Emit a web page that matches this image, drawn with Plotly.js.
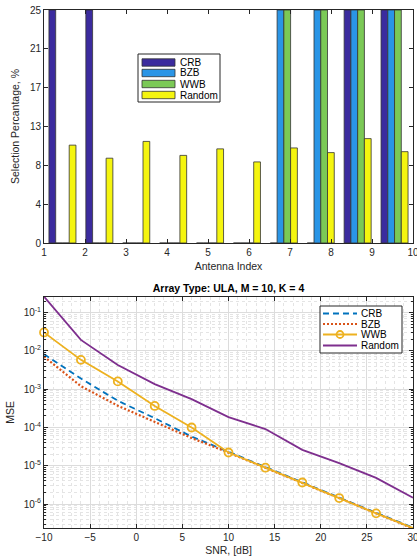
<!DOCTYPE html>
<html>
<head>
<meta charset="utf-8">
<script src="https://cdn.plot.ly/plotly-3.0.1.min.js"></script>
<style>html,body{margin:0;padding:0;background:#fff;}#chart{width:417px;height:558px;}</style>
</head>
<body>
<div id="chart"></div>
<script>
// ---------- Data: top chart (antenna selection) ----------
var antennaTicks = [1, 2, 3, 4, 5, 6, 7, 8, 9, 10];
var binCenters = [1.45, 2.35, 3.25, 4.15, 5.05, 5.95, 6.85, 7.75, 8.65, 9.55];
var barSeries = ['CRB', 'BZB', 'WWB', 'Random'];
var crbPct    = [25, 25, 0, 0, 0, 0, 0, 0, 25, 25];
var bzbPct    = [0, 0, 0, 0, 0, 0, 25, 25, 25, 25];
var wwbPct    = [0, 0, 0, 0, 0, 0, 25, 25, 25, 25];
var randomPct = [10.5, 9.1, 10.9, 9.4, 10.1, 8.7, 10.2, 9.7, 11.2, 9.8];
var pctTickVals = [0, 25/6, 50/6, 75/6, 100/6, 125/6, 25];
var pctTickText = ['0', '4', '8', '13', '17', '21', '25'];

// ---------- Data: bottom chart (MSE vs SNR) ----------
var snr = [-10, -6, -2, 2, 6, 10, 14, 18, 22, 26, 30];
var mseCRB    = [8.2e-3, 1.9e-3, 5.0e-4, 1.75e-4, 5.8e-5, 2.3e-5, 9.2e-6, 3.75e-6, 1.47e-6, 5.9e-7, 2.4e-7];
var mseBZB    = [7.1e-3, 1.2e-3, 3.7e-4, 1.43e-4, 5.3e-5, 2.2e-5, 8.8e-6, 3.6e-6, 1.43e-6, 5.7e-7, 2.3e-7];
var mseWWB    = [0.0305, 5.85e-3, 1.6e-3, 3.65e-4, 1.0e-4, 2.22e-5, 8.9e-6, 3.65e-6, 1.43e-6, 5.7e-7, 2.36e-7];
var mseRandom = [0.262, 0.0194, 4.3e-3, 1.36e-3, 5.5e-4, 1.86e-4, 9.1e-5, 2.6e-5, 1.17e-5, 4.8e-6, 1.45e-6];
var lineSeries = ['CRB', 'BZB', 'WWB', 'Random'];
var snrTicks = [-10, -5, 0, 5, 10, 15, 20, 25, 30];
var mseTickVals = [1e-6, 1e-5, 1e-4, 1e-3, 1e-2, 1e-1];
var mseTickText = ['10<sup>-6</sup>', '10<sup>-5</sup>', '10<sup>-4</sup>', '10<sup>-3</sup>', '10<sup>-2</sup>', '10<sup>-1</sup>'];

// ---------- Styles ----------
var barColors = ['#3b2b9e', '#2a95e6', '#7bc956', '#f5f50f'];
var lineColors = ['#0072BD', '#D95319', '#EDB120', '#7E2F8E'];
var FONT = 'Liberation Sans, Arial, Helvetica, sans-serif';
var AX = '#262626';

// minor log tick positions
var minorLog = [];
for (var e = -7; e <= 0; e++) for (var m = 2; m <= 9; m++) minorLog.push(m * Math.pow(10, e));

// pixel -> paper helpers (plot area: x 44..413, y 10..528)
var L = 44, R = 4, T = 10, B = 30, W = 417, H = 558;
var PW = W - L - R, PH = H - T - B;
function px(x) { return (x - L) / PW; }
function py(y) { return (H - B - y) / PH; }

var pctSeries = [crbPct, bzbPct, wwbPct, randomPct];
var traces = [];
for (var i = 0; i < 4; i++) {
  traces.push({
    type: 'bar', name: barSeries[i], x: binCenters, y: pctSeries[i],
    xaxis: 'x', yaxis: 'y', showlegend: false,
    marker: {color: barColors[i], line: {color: '#333', width: 0.8}},
    cliponaxis: true, hoverinfo: 'x+y+name'
  });
}
var mseSeries = [mseCRB, mseBZB, mseWWB, mseRandom];
var dashes = ['6px,4px', '2px,2px', 'solid', 'solid'];
for (var j = 0; j < 4; j++) {
  traces.push({
    type: 'scatter', name: lineSeries[j], x: snr, y: mseSeries[j],
    xaxis: 'x2', yaxis: 'y2', showlegend: false,
    mode: j === 2 ? 'lines+markers' : 'lines',
    line: {color: lineColors[j], width: j === 1 ? 2.2 : 1.8, dash: dashes[j]},
    marker: {symbol: 'circle-open', size: 8, color: lineColors[j], line: {width: 1.8, color: lineColors[j]}},
    cliponaxis: false
  });
}

// ---------- custom legends ----------
var shapes = [], annotations = [];
// top legend
shapes.push({type: 'rect', xref: 'paper', yref: 'paper', x0: px(138), x1: px(220), y0: py(102), y1: py(54),
  fillcolor: '#fff', line: {color: AX, width: 1}, layer: 'above'});
var rowsTop = [62.5, 73, 84, 95];
for (var k = 0; k < 4; k++) {
  shapes.push({type: 'rect', xref: 'paper', yref: 'paper', x0: px(142), x1: px(175),
    y0: py(rowsTop[k] + 3.7), y1: py(rowsTop[k] - 3.7), fillcolor: barColors[k], line: {color: '#333', width: 0.8}, layer: 'above'});
  annotations.push({xref: 'paper', yref: 'paper', x: px(177.5), y: py(rowsTop[k]), xanchor: 'left', yanchor: 'middle',
    text: barSeries[k], showarrow: false, font: {family: FONT, size: 10, color: '#000'}});
}
// bottom legend
shapes.push({type: 'rect', xref: 'paper', yref: 'paper', x0: px(320), x1: px(402), y0: py(353), y1: py(306),
  fillcolor: '#fff', line: {color: AX, width: 1}, layer: 'above'});
var rowsBot = [313.5, 324, 334.5, 345.5];
for (var n = 0; n < 4; n++) {
  shapes.push({type: 'line', xref: 'paper', yref: 'paper', x0: px(323), x1: px(357), y0: py(rowsBot[n]), y1: py(rowsBot[n]),
    line: {color: lineColors[n], width: n === 1 ? 2.2 : 1.8, dash: dashes[n]}, layer: 'above'});
  annotations.push({xref: 'paper', yref: 'paper', x: px(359), y: py(rowsBot[n]), xanchor: 'left', yanchor: 'middle',
    text: lineSeries[n], showarrow: false, font: {family: FONT, size: 10, color: '#000'}});
}
shapes.push({type: 'circle', xref: 'paper', yref: 'paper', x0: px(336.5), x1: px(343.5), y0: py(rowsBot[2] + 3.5), y1: py(rowsBot[2] - 3.5),
  line: {color: lineColors[2], width: 1.8}, fillcolor: 'rgba(0,0,0,0)', layer: 'above'});

var tickFont = {family: FONT, size: 10, color: AX};
var layout = {
  width: W, height: H,
  margin: {l: L, r: R, t: T, b: B, pad: 0},
  paper_bgcolor: '#fff', plot_bgcolor: '#fff',
  font: {family: FONT, size: 10, color: AX},
  barmode: 'group', bargap: 0.268, bargroupgap: 0,
  showlegend: false,
  title: {text: '<b>Array Type: ULA, M = 10, K = 4</b>', font: {family: FONT, size: 10.5, color: '#000'},
    x: 228.5 / W, xanchor: 'center', xref: 'container', y: 1 - 288 / H, yanchor: 'middle', yref: 'container'},
  xaxis: {domain: [0, 1], anchor: 'y', range: [1, 10], tickmode: 'array', tickvals: antennaTicks,
    ticks: 'inside', ticklen: 4, tickcolor: AX, showline: true, linecolor: AX, linewidth: 1, mirror: 'ticks',
    showgrid: false, zeroline: false, tickfont: tickFont, ticklabeloverflow: 'allow',
    title: {text: 'Antenna Index', font: {family: FONT, size: 10.5, color: AX}, standoff: 5}},
  yaxis: {domain: [py(243), 1], anchor: 'x', range: [0, 25], tickmode: 'array', tickvals: pctTickVals, ticktext: pctTickText,
    ticks: 'inside', ticklen: 4, tickcolor: AX, showline: true, linecolor: AX, linewidth: 1, mirror: 'ticks',
    showgrid: false, zeroline: false, tickfont: tickFont, ticklabeloverflow: 'allow',
    title: {text: 'Selection Percantage, %', font: {family: FONT, size: 10.5, color: AX}, standoff: 8}},
  xaxis2: {domain: [0, 1], anchor: 'y2', range: [-10, 30], tickmode: 'array', tickvals: snrTicks,
    ticks: 'inside', ticklen: 4, tickcolor: AX, showline: true, linecolor: AX, linewidth: 1, mirror: 'ticks',
    showgrid: true, gridcolor: '#dcdcdc', gridwidth: 1, zeroline: false, tickfont: tickFont, ticklabeloverflow: 'allow',
    minor: {dtick: 1, showgrid: true, gridcolor: '#e4e4e4', griddash: 'dot', gridwidth: 1, ticks: ''},
    title: {text: 'SNR, [dB]', font: {family: FONT, size: 10.5, color: AX}, standoff: 4}},
  yaxis2: {domain: [0, py(296.7)], anchor: 'x2', type: 'log', range: [-6.627, -0.582],
    tickmode: 'array', tickvals: mseTickVals, ticktext: mseTickText,
    ticks: 'inside', ticklen: 4, tickcolor: AX, showline: true, linecolor: AX, linewidth: 1, mirror: 'ticks',
    showgrid: true, gridcolor: '#dcdcdc', gridwidth: 1, zeroline: false, tickfont: tickFont, ticklabeloverflow: 'allow',
    minor: {tickmode: 'array', tickvals: minorLog, showgrid: true, gridcolor: '#e4e4e4', griddash: 'dot', gridwidth: 1,
      ticks: 'inside', ticklen: 2, tickcolor: AX},
    title: {text: 'MSE', font: {family: FONT, size: 10.5, color: AX}, standoff: 6}},
  shapes: shapes,
  annotations: annotations
};

Plotly.newPlot('chart', traces, layout, {staticPlot: true, displayModeBar: false});
</script>
</body>
</html>
